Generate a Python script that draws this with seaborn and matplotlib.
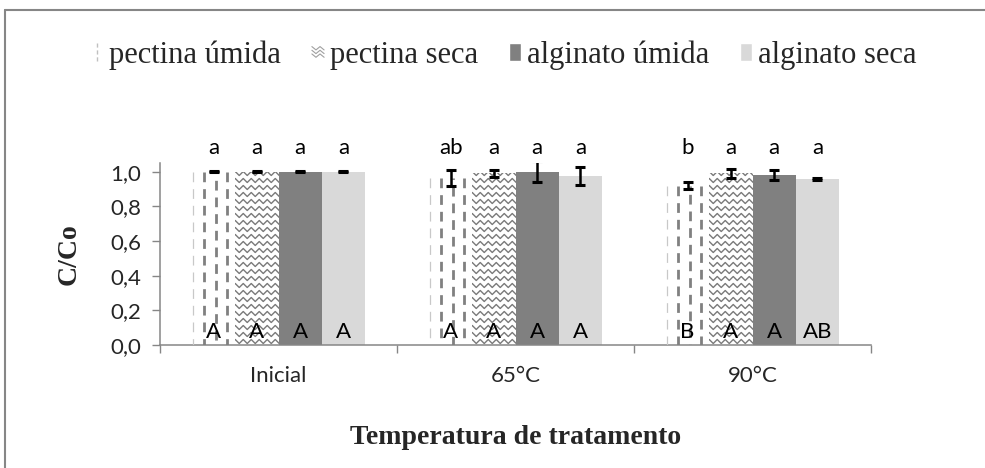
import numpy as np
import pandas as pd
import matplotlib
matplotlib.use("Agg")
import matplotlib.pyplot as plt
import seaborn as sns
from matplotlib.lines import Line2D
from matplotlib.patches import Patch
from matplotlib.legend_handler import HandlerPatch

# ---- data -------------------------------------------------------------
categories = ["Inicial", "65°C", "90°C"]
series = ["pectina úmida", "pectina seca", "alginato úmida", "alginato seca"]

pectina_umida = [1.00, 0.965, 0.92]
pectina_seca = [1.00, 0.99, 0.99]
alginato_umida = [1.00, 1.00, 0.98]
alginato_seca = [1.00, 0.975, 0.957]

err_pectina_umida = [0.004, 0.045, 0.02]
err_pectina_seca = [0.004, 0.02, 0.025]
err_alginato_umida = [0.004, 0.06, 0.03]
err_alginato_seca = [0.004, 0.05, 0.004]

# letters of the statistical tests (rows = series, columns = categories)
lower_letters = [["a", "ab", "b"], ["a", "a", "a"], ["a", "a", "a"], ["a", "a", "a"]]
upper_letters = [["A", "A", "B"], ["A", "A", "A"], ["A", "A", "A"], ["A", "A", "AB"]]

y_ticks = [0.0, 0.2, 0.4, 0.6, 0.8, 1.0]
y_tick_labels = ["0,0", "0,2", "0,4", "0,6", "0,8", "1,0"]

# ---- styling ----------------------------------------------------------
sns.set_theme(style="white")
plt.rcParams["font.family"] = ["Lato", "DejaVu Sans"]
plt.rcParams["lines.scale_dashes"] = False

AXIS_GRAY = "#868686"
PATTERN_GRAY = "#808080"
bar_colors = ["white", "white", "#808080", "#d9d9d9"]
SERIF = ["Liberation Serif", "DejaVu Serif"]

values = dict(zip(series, [pectina_umida, pectina_seca, alginato_umida, alginato_seca]))
errors = dict(zip(series, [err_pectina_umida, err_pectina_seca, err_alginato_umida, err_alginato_seca]))

df = pd.DataFrame(
    [(c, s, values[s][i]) for i, c in enumerate(categories) for s in series],
    columns=["Temperatura", "Série", "C/Co"],
)

fig = plt.figure(figsize=(9.85, 4.68), dpi=100)
ax = fig.add_axes([160 / 985, 123 / 468, 711 / 985, 182 / 468])

sns.barplot(
    data=df, x="Temperatura", y="C/Co", hue="Série",
    order=categories, hue_order=series,
    palette=dict(zip(series, bar_colors)), saturation=1,
    width=0.73, gap=0, errorbar=None, legend=False,
    edgecolor="none", linewidth=0, ax=ax,
)

ax.set_xlim(-0.5, 2.5)
ax.set_ylim(0, 1.05)
ax.autoscale(False)

bar_containers = list(ax.containers)
to_data = ax.transData.inverted()


def clipped_line(bar, xs, ys, **kw):
    line = Line2D(xs, ys, zorder=3, **kw)
    ax.add_line(line)
    line.set_clip_path(bar)
    return line


def dashed_columns(bar):
    """Vertical dashed-line fill for the 'pectina úmida' bars."""
    x0, w, h = bar.get_x(), bar.get_width(), bar.get_height()
    clipped_line(bar, [x0 + 0.012 * w] * 2, [h, 0], color="#c8c8c8", lw=0.9,
                 ls=(0, (7, 5)))
    for j, f in enumerate([0.28, 0.55, 0.81]):
        clipped_line(bar, [x0 + f * w] * 2, [h, 0], color=PATTERN_GRAY, lw=2.0,
                     ls=(0 if j % 2 == 0 else 6, (7, 5)), dash_capstyle="butt")


def zigzag_fill(bar, row_px=7.0, half_period_px=4.0, amp_px=2.0):
    """Zig-zag line fill for the 'pectina seca' bars."""
    bb = bar.get_window_extent()
    y = bb.y0 + row_px / 2
    while y < bb.y1 + row_px:
        xs = np.arange(bb.x0 - 2 * half_period_px, bb.x1 + 2 * half_period_px, half_period_px)
        ys = y + amp_px * np.where(np.arange(len(xs)) % 2 == 0, 1, -1)
        pts = to_data.transform(np.column_stack([xs, ys]))
        clipped_line(bar, pts[:, 0], pts[:, 1], color="#7a7a7a", lw=1.0)
        y += row_px


for s_idx, (name, cont) in enumerate(zip(series, bar_containers)):
    centers = [b.get_x() + b.get_width() / 2 for b in cont]
    for c_idx, bar in enumerate(cont):
        if s_idx == 0:
            dashed_columns(bar)
        elif s_idx == 1:
            zigzag_fill(bar)
        ax.text(centers[c_idx], 0.04, upper_letters[s_idx][c_idx], ha="center",
                va="baseline", fontsize=16, color="black", zorder=5)
        ax.text(centers[c_idx], 1.10, lower_letters[s_idx][c_idx], ha="center",
                va="baseline", fontsize=16, color="black", clip_on=False, zorder=5)
    ax.errorbar(centers, values[name], yerr=errors[name], fmt="none",
                ecolor="black", elinewidth=1.8, capsize=3.8, capthick=2.2, zorder=6)

# ---- axes -------------------------------------------------------------
for side in ["top", "right"]:
    ax.spines[side].set_visible(False)
for side in ["left", "bottom"]:
    ax.spines[side].set_color(AXIS_GRAY)
    ax.spines[side].set_linewidth(1.1)

ax.set_yticks(y_ticks)
ax.set_yticklabels(y_tick_labels)
ax.tick_params(axis="y", direction="out", length=5.5, width=1, color=AXIS_GRAY,
               labelsize=16, pad=8, left=True)
ax.set_xticks(range(len(categories)))
ax.set_xticklabels(categories)
ax.set_xticks(np.arange(-0.5, len(categories), 1.0), minor=True)
ax.tick_params(axis="x", which="major", length=0, labelsize=16, pad=15)
ax.tick_params(axis="x", which="minor", direction="out", length=6, width=1,
               color=AXIS_GRAY, bottom=True)

ax.set_ylabel("C/Co", fontfamily=SERIF, fontweight="bold", fontsize=20)
ax.yaxis.set_label_coords(-0.11, 0.5)
ax.set_xlabel("Temperatura de tratamento", fontfamily=SERIF, fontweight="bold", fontsize=20)
ax.xaxis.label.set_va("center")
ax.xaxis.set_label_coords(0.5, -0.51)


# ---- legend -------------------------------------------------------------
class DashedHandler(HandlerPatch):
    def create_artists(self, legend, orig_handle, xdescent, ydescent, width,
                       height, fontsize, trans):
        x = -xdescent + 0.5 * width
        line = Line2D([x, x], [-ydescent, -ydescent + height], color="#c0c0c0",
                      lw=1.0, ls=(0, (3, 2)), transform=trans)
        return [line]


class ZigzagHandler(HandlerPatch):
    def create_artists(self, legend, orig_handle, xdescent, ydescent, width,
                       height, fontsize, trans):
        arts = []
        step = width / 3
        for k in range(3):
            yc = -ydescent + height * (0.3 + 0.2 * k)
            xs = -xdescent + np.arange(4) * step
            ys = yc + np.array([1, -1, 1, -1]) * 1.2
            arts.append(Line2D(xs, ys, color="#a0a0a0", lw=0.8, transform=trans))
        return arts


handles = [Patch(facecolor="white"), Patch(facecolor="white"),
           Patch(facecolor=bar_colors[2]), Patch(facecolor=bar_colors[3])]
fig.legend(
    handles, series, loc="center", bbox_to_anchor=(504 / 985, 1 - 55 / 468),
    ncol=4, frameon=False, prop={"family": SERIF, "size": 22},
    handlelength=0.4, handleheight=0.55, handletextpad=0.2, columnspacing=1.0,
    handler_map={handles[0]: DashedHandler(), handles[1]: ZigzagHandler()},
)

# outer frame lines
fig.add_artist(Line2D([5 / 985, 5 / 985], [0, 1 - 10 / 468], transform=fig.transFigure,
                      color=AXIS_GRAY, lw=1.5))
fig.add_artist(Line2D([5 / 985, 1], [1 - 10 / 468, 1 - 10 / 468], transform=fig.transFigure,
                      color=AXIS_GRAY, lw=1.5))

fig.savefig("out.png", dpi=100)
